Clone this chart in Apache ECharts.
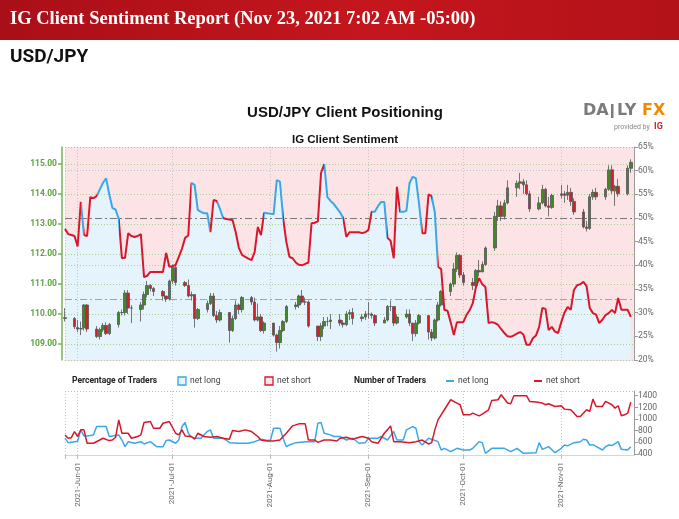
<!DOCTYPE html>
<html>
<head>
<meta charset="utf-8">
<title>USD/JPY Client Positioning</title>
<script src="https://cdn.jsdelivr.net/npm/echarts@6/dist/echarts.min.js"></script>
<style>
html, body { margin: 0; padding: 0; background: #fff; }
#chart { width: 679px; height: 519px; }
</style>
</head>
<body>
<div id="chart"></div>
<script>
// daily candles: [date, open, close, low, high]
var candles = [
  ['2021-05-28', 109.85, 109.88, 109.75, 110.20],
  ['2021-05-31', 109.85, 109.58, 109.50, 109.90],
  ['2021-06-01', 109.55, 109.50, 109.40, 109.80],
  ['2021-06-02', 109.50, 109.52, 109.30, 109.75],
  ['2021-06-03', 109.55, 110.30, 109.45, 110.33],
  ['2021-06-04', 110.30, 109.50, 109.40, 110.33],
  ['2021-06-07', 109.50, 109.25, 109.20, 109.60],
  ['2021-06-08', 109.25, 109.48, 109.15, 109.55],
  ['2021-06-09', 109.48, 109.62, 109.40, 109.70],
  ['2021-06-10', 109.62, 109.35, 109.30, 109.72],
  ['2021-06-11', 109.35, 109.65, 109.30, 109.70],
  ['2021-06-14', 109.65, 110.05, 109.55, 110.10],
  ['2021-06-15', 110.05, 110.05, 109.95, 110.15],
  ['2021-06-16', 110.05, 110.70, 109.95, 110.80],
  ['2021-06-17', 110.70, 110.20, 110.00, 110.80],
  ['2021-06-18', 110.20, 110.20, 109.70, 110.30],
  ['2021-06-21', 110.15, 110.30, 109.75, 110.40],
  ['2021-06-22', 110.30, 110.65, 110.15, 110.75],
  ['2021-06-23', 110.65, 110.95, 110.55, 111.10],
  ['2021-06-24', 110.95, 110.85, 110.75, 111.00],
  ['2021-06-25', 110.85, 110.75, 110.60, 110.90],
  ['2021-06-28', 110.75, 110.60, 110.45, 110.80],
  ['2021-06-29', 110.60, 110.50, 110.40, 110.60],
  ['2021-06-30', 110.50, 111.10, 110.45, 111.15],
  ['2021-07-01', 111.10, 111.55, 111.00, 111.65],
  ['2021-07-02', 111.55, 111.05, 110.95, 111.65],
  ['2021-07-05', 111.05, 110.95, 110.90, 111.10],
  ['2021-07-06', 110.95, 110.60, 110.55, 111.15],
  ['2021-07-07', 110.60, 110.65, 110.45, 110.75],
  ['2021-07-08', 110.65, 109.85, 109.55, 110.65],
  ['2021-07-09', 109.85, 110.15, 109.80, 110.20],
  ['2021-07-12', 110.15, 110.35, 110.05, 110.45],
  ['2021-07-13', 110.35, 110.60, 110.30, 110.70],
  ['2021-07-14', 110.60, 109.95, 109.90, 110.70],
  ['2021-07-15', 109.95, 109.80, 109.70, 110.10],
  ['2021-07-16', 109.80, 110.05, 109.75, 110.15],
  ['2021-07-19', 110.05, 109.45, 109.05, 110.05],
  ['2021-07-20', 109.45, 109.85, 109.40, 109.95],
  ['2021-07-21', 109.85, 110.30, 109.80, 110.45],
  ['2021-07-22', 110.30, 110.15, 110.00, 110.35],
  ['2021-07-23', 110.15, 110.55, 110.05, 110.60],
  ['2021-07-26', 110.55, 110.40, 110.30, 110.60],
  ['2021-07-27', 110.40, 109.80, 109.75, 110.55],
  ['2021-07-28', 109.80, 109.90, 109.75, 110.35],
  ['2021-07-29', 109.90, 109.45, 109.40, 110.00],
  ['2021-07-30', 109.45, 109.70, 109.35, 109.75],
  ['2021-08-02', 109.70, 109.30, 109.25, 109.70],
  ['2021-08-03', 109.30, 109.05, 108.75, 109.35],
  ['2021-08-04', 109.05, 109.45, 108.85, 109.60],
  ['2021-08-05', 109.45, 109.75, 109.40, 109.80],
  ['2021-08-06', 109.75, 110.25, 109.70, 110.30],
  ['2021-08-09', 110.25, 110.30, 110.15, 110.40],
  ['2021-08-10', 110.30, 110.60, 110.20, 110.65],
  ['2021-08-11', 110.60, 110.40, 110.35, 110.80],
  ['2021-08-12', 110.40, 110.40, 110.30, 110.55],
  ['2021-08-13', 110.40, 109.60, 109.55, 110.45],
  ['2021-08-16', 109.60, 109.25, 109.10, 109.60],
  ['2021-08-17', 109.25, 109.60, 109.10, 109.70],
  ['2021-08-18', 109.60, 109.75, 109.50, 109.90],
  ['2021-08-19', 109.75, 109.75, 109.60, 109.90],
  ['2021-08-20', 109.75, 109.80, 109.50, 110.00],
  ['2021-08-23', 109.80, 109.70, 109.60, 110.00],
  ['2021-08-24', 109.70, 109.65, 109.55, 109.80],
  ['2021-08-25', 109.65, 110.00, 109.60, 110.10],
  ['2021-08-26', 110.00, 110.05, 109.80, 110.15],
  ['2021-08-27', 110.05, 109.85, 109.65, 110.20],
  ['2021-08-30', 109.85, 109.90, 109.75, 110.00],
  ['2021-08-31', 109.90, 110.00, 109.80, 110.10],
  ['2021-09-01', 110.00, 110.00, 109.85, 110.40],
  ['2021-09-02', 110.00, 109.95, 109.85, 110.05],
  ['2021-09-03', 109.95, 109.70, 109.60, 110.00],
  ['2021-09-06', 109.70, 109.80, 109.70, 109.90],
  ['2021-09-07', 109.80, 110.25, 109.75, 110.30],
  ['2021-09-08', 110.25, 110.25, 110.10, 110.45],
  ['2021-09-09', 110.25, 109.70, 109.60, 110.25],
  ['2021-09-10', 109.70, 109.90, 109.65, 110.00],
  ['2021-09-13', 109.90, 110.00, 109.85, 110.15],
  ['2021-09-14', 110.00, 109.70, 109.60, 110.15],
  ['2021-09-15', 109.70, 109.35, 109.10, 109.70],
  ['2021-09-16', 109.35, 109.70, 109.25, 109.80],
  ['2021-09-17', 109.70, 109.95, 109.65, 110.00],
  ['2021-09-20', 109.95, 109.40, 109.15, 109.95],
  ['2021-09-21', 109.40, 109.20, 109.10, 109.50],
  ['2021-09-22', 109.20, 109.80, 109.15, 109.85],
  ['2021-09-23', 109.80, 110.30, 109.75, 110.40],
  ['2021-09-24', 110.30, 110.75, 110.25, 110.80],
  ['2021-09-27', 110.75, 111.00, 110.60, 111.05],
  ['2021-09-28', 111.00, 111.50, 110.90, 111.70],
  ['2021-09-29', 111.50, 111.95, 111.40, 112.05],
  ['2021-09-30', 111.95, 111.30, 111.20, 112.00],
  ['2021-10-01', 111.30, 111.05, 110.95, 111.40],
  ['2021-10-04', 111.05, 110.95, 110.80, 111.20],
  ['2021-10-05', 110.95, 111.45, 110.85, 111.50],
  ['2021-10-06', 111.45, 111.40, 111.25, 111.80],
  ['2021-10-07', 111.40, 111.65, 111.40, 111.75],
  ['2021-10-08', 111.65, 112.20, 111.60, 112.25],
  ['2021-10-11', 112.20, 113.25, 112.10, 113.40],
  ['2021-10-12', 113.25, 113.60, 113.10, 113.80],
  ['2021-10-13', 113.60, 113.25, 113.10, 113.75],
  ['2021-10-14', 113.25, 113.70, 113.15, 113.80],
  ['2021-10-15', 113.70, 114.20, 113.65, 114.45],
  ['2021-10-18', 114.20, 114.35, 113.90, 114.45],
  ['2021-10-19', 114.35, 114.40, 114.15, 114.70],
  ['2021-10-20', 114.40, 114.30, 114.00, 114.50],
  ['2021-10-21', 114.30, 114.00, 113.95, 114.45],
  ['2021-10-22', 114.00, 113.50, 113.40, 114.10],
  ['2021-10-25', 113.50, 113.70, 113.45, 113.90],
  ['2021-10-26', 113.70, 114.15, 113.65, 114.30],
  ['2021-10-27', 114.15, 113.60, 113.55, 114.20],
  ['2021-10-28', 113.60, 113.55, 113.25, 113.90],
  ['2021-10-29', 113.55, 113.95, 113.50, 114.00],
  ['2021-11-01', 113.95, 114.00, 113.85, 114.30],
  ['2021-11-02', 114.00, 113.95, 113.70, 114.10],
  ['2021-11-03', 113.95, 114.05, 113.80, 114.30],
  ['2021-11-04', 114.05, 113.75, 113.60, 114.20],
  ['2021-11-05', 113.75, 113.40, 113.30, 113.85],
  ['2021-11-08', 113.40, 112.90, 112.85, 113.50],
  ['2021-11-09', 112.90, 112.85, 112.75, 113.10],
  ['2021-11-10', 112.85, 113.90, 112.80, 114.00],
  ['2021-11-11', 113.90, 114.05, 113.80, 114.15],
  ['2021-11-12', 114.05, 113.90, 113.80, 114.20],
  ['2021-11-15', 113.90, 114.15, 113.80, 114.20],
  ['2021-11-16', 114.15, 114.80, 114.10, 114.95],
  ['2021-11-17', 114.80, 114.10, 114.00, 114.95],
  ['2021-11-18', 114.10, 114.25, 113.60, 114.30],
  ['2021-11-19', 114.25, 114.00, 113.90, 114.50],
  ['2021-11-22', 114.00, 114.85, 113.95, 114.95],
  ['2021-11-23', 114.85, 115.05, 114.70, 115.15]
];

// % of traders net long
var sentiment = [
  ['2021-05-28', 47.7], ['2021-05-29', 46.6], ['2021-05-30', 46.4], ['2021-05-31', 46.2],
  ['2021-06-01', 44.0], ['2021-06-02', 53.4], ['2021-06-03', 46.4], ['2021-06-04', 46.2],
  ['2021-06-05', 54.4], ['2021-06-06', 54.2], ['2021-06-07', 54.6], ['2021-06-08', 56.0],
  ['2021-06-09', 57.4], ['2021-06-10', 58.4], ['2021-06-11', 55.0], ['2021-06-12', 52.1],
  ['2021-06-13', 51.8], ['2021-06-14', 49.8], ['2021-06-15', 41.5], ['2021-06-16', 41.6],
  ['2021-06-17', 46.8], ['2021-06-18', 46.2], ['2021-06-19', 46.0], ['2021-06-20', 46.2],
  ['2021-06-21', 46.6], ['2021-06-22', 37.5], ['2021-06-23', 37.8], ['2021-06-24', 38.6],
  ['2021-06-25', 38.6], ['2021-06-26', 38.6], ['2021-06-27', 38.6], ['2021-06-28', 38.6],
  ['2021-06-29', 42.6], ['2021-06-30', 39.7], ['2021-07-01', 39.8], ['2021-07-02', 40.1],
  ['2021-07-03', 41.8], ['2021-07-04', 43.5], ['2021-07-05', 45.8], ['2021-07-06', 46.3],
  ['2021-07-07', 57.4], ['2021-07-08', 57.0], ['2021-07-09', 51.7], ['2021-07-10', 51.3],
  ['2021-07-11', 51.0], ['2021-07-12', 51.0], ['2021-07-13', 47.0], ['2021-07-14', 53.8],
  ['2021-07-15', 53.6], ['2021-07-16', 52.0], ['2021-07-17', 50.0], ['2021-07-18', 49.8],
  ['2021-07-19', 49.7], ['2021-07-20', 49.6], ['2021-07-21', 47.0], ['2021-07-22', 43.7],
  ['2021-07-23', 42.2], ['2021-07-24', 41.8], ['2021-07-25', 41.4], ['2021-07-26', 41.1],
  ['2021-07-27', 42.8], ['2021-07-28', 48.1], ['2021-07-29', 46.4], ['2021-07-30', 51.1],
  ['2021-07-31', 51.0], ['2021-08-01', 50.9], ['2021-08-02', 50.8], ['2021-08-03', 58.0],
  ['2021-08-04', 57.7], ['2021-08-05', 50.0], ['2021-08-06', 45.0], ['2021-08-07', 41.8],
  ['2021-08-08', 41.5], ['2021-08-09', 40.6], ['2021-08-10', 40.1], ['2021-08-11', 40.0],
  ['2021-08-12', 40.3], ['2021-08-13', 40.6], ['2021-08-14', 48.9], ['2021-08-15', 49.0],
  ['2021-08-16', 49.3], ['2021-08-17', 59.5], ['2021-08-18', 61.4], ['2021-08-19', 54.4],
  ['2021-08-20', 53.6], ['2021-08-21', 53.0], ['2021-08-22', 52.1], ['2021-08-23', 51.2],
  ['2021-08-24', 50.0], ['2021-08-25', 46.0], ['2021-08-26', 47.0], ['2021-08-27', 47.0],
  ['2021-08-28', 47.0], ['2021-08-29', 47.0], ['2021-08-30', 46.8], ['2021-08-31', 47.0],
  ['2021-09-01', 47.5], ['2021-09-02', 51.3], ['2021-09-03', 51.3], ['2021-09-04', 52.5],
  ['2021-09-05', 53.4], ['2021-09-06', 53.4], ['2021-09-07', 45.8], ['2021-09-08', 45.2],
  ['2021-09-09', 41.5], ['2021-09-10', 56.6], ['2021-09-11', 51.3], ['2021-09-12', 51.3],
  ['2021-09-13', 51.5], ['2021-09-14', 57.4], ['2021-09-15', 58.7], ['2021-09-16', 58.4],
  ['2021-09-17', 53.0], ['2021-09-18', 46.8], ['2021-09-19', 46.8], ['2021-09-20', 55.0],
  ['2021-09-21', 54.6], ['2021-09-22', 51.1], ['2021-09-23', 39.7], ['2021-09-24', 39.2],
  ['2021-09-25', 30.6], ['2021-09-26', 30.4], ['2021-09-27', 28.0], ['2021-09-28', 25.3],
  ['2021-09-29', 28.0], ['2021-09-30', 28.0], ['2021-10-01', 28.0], ['2021-10-02', 29.5],
  ['2021-10-03', 30.5], ['2021-10-04', 32.0], ['2021-10-05', 35.4], ['2021-10-06', 37.3],
  ['2021-10-07', 36.0], ['2021-10-08', 35.4], ['2021-10-09', 27.8], ['2021-10-10', 28.0],
  ['2021-10-11', 27.8], ['2021-10-12', 27.4], ['2021-10-13', 26.5], ['2021-10-14', 25.7],
  ['2021-10-15', 25.0], ['2021-10-16', 24.9], ['2021-10-17', 25.2], ['2021-10-18', 25.6],
  ['2021-10-19', 25.9], ['2021-10-20', 25.4], ['2021-10-21', 23.2], ['2021-10-22', 23.2],
  ['2021-10-23', 24.6], ['2021-10-24', 25.2], ['2021-10-25', 27.0], ['2021-10-26', 31.0],
  ['2021-10-27', 30.8], ['2021-10-28', 26.3], ['2021-10-29', 27.0], ['2021-10-30', 26.0],
  ['2021-10-31', 25.7], ['2021-11-01', 28.0], ['2021-11-02', 30.0], ['2021-11-03', 31.2],
  ['2021-11-04', 30.6], ['2021-11-05', 34.8], ['2021-11-06', 35.8], ['2021-11-07', 36.0],
  ['2021-11-08', 36.5], ['2021-11-09', 35.6], ['2021-11-10', 31.0], ['2021-11-11', 29.9],
  ['2021-11-12', 29.6], ['2021-11-13', 27.8], ['2021-11-14', 28.5], ['2021-11-15', 29.5],
  ['2021-11-16', 29.9], ['2021-11-17', 30.6], ['2021-11-18', 29.9], ['2021-11-19', 33.1],
  ['2021-11-20', 30.6], ['2021-11-21', 30.6], ['2021-11-22', 30.6], ['2021-11-23', 29.1]
];

// stretches where the sentiment line is drawn blue
var blueSpans = [
  ['2021-06-02', '2021-06-03'], ['2021-06-07', '2021-06-14'], ['2021-07-07', '2021-07-13'],
  ['2021-07-15', '2021-07-17'], ['2021-07-30', '2021-08-05'], ['2021-08-18', '2021-08-24'],
  ['2021-09-02', '2021-09-07'], ['2021-09-11', '2021-09-18'], ['2021-09-21', '2021-09-23']
];

// number of traders
var longCount = [
  ['2021-05-28', 670], ['2021-05-29', 595], ['2021-05-31', 612], ['2021-06-01', 620],
  ['2021-06-02', 814], ['2021-06-03', 710], ['2021-06-04', 710], ['2021-06-06', 728],
  ['2021-06-07', 871], ['2021-06-10', 871], ['2021-06-11', 700], ['2021-06-14', 728],
  ['2021-06-15', 640], ['2021-06-16', 526], ['2021-06-17', 612], ['2021-06-19', 584],
  ['2021-06-21', 612], ['2021-06-22', 572], ['2021-06-24', 612], ['2021-06-26', 526],
  ['2021-06-28', 526], ['2021-06-29', 630], ['2021-06-30', 640], ['2021-07-02', 584],
  ['2021-07-03', 640], ['2021-07-04', 871], ['2021-07-05', 940], ['2021-07-06', 756],
  ['2021-07-07', 690], ['2021-07-08', 670], ['2021-07-10', 670], ['2021-07-12', 785],
  ['2021-07-13', 814], ['2021-07-14', 670], ['2021-07-17', 670], ['2021-07-18', 640],
  ['2021-07-19', 595], ['2021-07-22', 584], ['2021-07-25', 584], ['2021-07-27', 612],
  ['2021-07-29', 653], ['2021-07-31', 630], ['2021-08-01', 640], ['2021-08-02', 842],
  ['2021-08-04', 842], ['2021-08-05', 670], ['2021-08-06', 526], ['2021-08-07', 555],
  ['2021-08-09', 595], ['2021-08-12', 612], ['2021-08-15', 612], ['2021-08-16', 929],
  ['2021-08-17', 940], ['2021-08-18', 756], ['2021-08-20', 728], ['2021-08-21', 700],
  ['2021-08-23', 700], ['2021-08-25', 640], ['2021-08-27', 670], ['2021-08-29', 584],
  ['2021-08-31', 595], ['2021-09-01', 670], ['2021-09-04', 670], ['2021-09-05', 700],
  ['2021-09-07', 640], ['2021-09-09', 785], ['2021-09-10', 640], ['2021-09-12', 640],
  ['2021-09-13', 814], ['2021-09-15', 871], ['2021-09-16', 842], ['2021-09-17', 612],
  ['2021-09-18', 555], ['2021-09-20', 670], ['2021-09-21', 653], ['2021-09-23', 612],
  ['2021-09-24', 469], ['2021-09-25', 498], ['2021-09-27', 440], ['2021-09-29', 498],
  ['2021-10-01', 469], ['2021-10-03', 469], ['2021-10-04', 498], ['2021-10-06', 612],
  ['2021-10-07', 595], ['2021-10-08', 411], ['2021-10-10', 498], ['2021-10-14', 498],
  ['2021-10-16', 440], ['2021-10-18', 498], ['2021-10-20', 411], ['2021-10-24', 422],
  ['2021-10-25', 595], ['2021-10-26', 480], ['2021-10-28', 526], ['2021-10-30', 422],
  ['2021-11-01', 498], ['2021-11-02', 555], ['2021-11-03', 540], ['2021-11-05', 595],
  ['2021-11-07', 610], ['2021-11-08', 653], ['2021-11-09', 640], ['2021-11-10', 555],
  ['2021-11-11', 560], ['2021-11-12', 530], ['2021-11-14', 469], ['2021-11-15', 526],
  ['2021-11-16', 555], ['2021-11-17', 545], ['2021-11-19', 612], ['2021-11-20', 480],
  ['2021-11-22', 469], ['2021-11-23', 526]
];
var shortCount = [
  ['2021-05-28', 728], ['2021-05-29', 670], ['2021-05-30', 680], ['2021-05-31', 785],
  ['2021-06-01', 700], ['2021-06-02', 815], ['2021-06-03', 815], ['2021-06-04', 584],
  ['2021-06-06', 584], ['2021-06-08', 640], ['2021-06-09', 670], ['2021-06-11', 630],
  ['2021-06-12', 640], ['2021-06-13', 687], ['2021-06-14', 986], ['2021-06-15', 756],
  ['2021-06-17', 756], ['2021-06-18', 670], ['2021-06-20', 700], ['2021-06-21', 728],
  ['2021-06-22', 940], ['2021-06-24', 957], ['2021-06-25', 842], ['2021-06-27', 842],
  ['2021-06-28', 928], ['2021-06-30', 957], ['2021-07-02', 756], ['2021-07-03', 728],
  ['2021-07-04', 814], ['2021-07-05', 710], ['2021-07-07', 700], ['2021-07-08', 653],
  ['2021-07-09', 756], ['2021-07-11', 700], ['2021-07-13', 687], ['2021-07-15', 700],
  ['2021-07-17', 670], ['2021-07-19', 653], ['2021-07-20', 802], ['2021-07-22', 785],
  ['2021-07-24', 814], ['2021-07-26', 785], ['2021-07-28', 700], ['2021-07-29', 640],
  ['2021-07-31', 624], ['2021-08-02', 624], ['2021-08-04', 640], ['2021-08-06', 756],
  ['2021-08-08', 883], ['2021-08-10', 917], ['2021-08-12', 917], ['2021-08-13', 640],
  ['2021-08-15', 640], ['2021-08-16', 600], ['2021-08-18', 640], ['2021-08-20', 640],
  ['2021-08-22', 624], ['2021-08-23', 670], ['2021-08-25', 687], ['2021-08-27', 653],
  ['2021-08-28', 670], ['2021-08-30', 700], ['2021-09-01', 670], ['2021-09-02', 612],
  ['2021-09-04', 584], ['2021-09-06', 756], ['2021-09-07', 814], ['2021-09-08', 883],
  ['2021-09-09', 612], ['2021-09-11', 612], ['2021-09-14', 595], ['2021-09-16', 612],
  ['2021-09-18', 640], ['2021-09-20', 572], ['2021-09-21', 595], ['2021-09-22', 814],
  ['2021-09-23', 986], ['2021-09-25', 1159], ['2021-09-27', 1331], ['2021-09-29', 1274],
  ['2021-09-30', 1245], ['2021-10-01', 1072], ['2021-10-03', 1072], ['2021-10-04', 1101],
  ['2021-10-06', 1055], ['2021-10-07', 1084], ['2021-10-09', 1159], ['2021-10-10', 1320],
  ['2021-10-12', 1331], ['2021-10-13', 1417], ['2021-10-15', 1274], ['2021-10-16', 1262],
  ['2021-10-17', 1400], ['2021-10-21', 1400], ['2021-10-22', 1302], ['2021-10-24', 1291],
  ['2021-10-26', 1274], ['2021-10-27', 1245], ['2021-10-28', 1262], ['2021-10-30', 1216],
  ['2021-11-01', 1228], ['2021-11-02', 1170], ['2021-11-04', 1159], ['2021-11-06', 1044],
  ['2021-11-07', 1044], ['2021-11-09', 1159], ['2021-11-10', 1130], ['2021-11-11', 1342],
  ['2021-11-12', 1216], ['2021-11-14', 1216], ['2021-11-15', 1302], ['2021-11-17', 1245],
  ['2021-11-18', 1187], ['2021-11-19', 1228], ['2021-11-20', 1055], ['2021-11-21', 1072],
  ['2021-11-22', 1100], ['2021-11-23', 1290]
];

var monthTicks = ['2021-06-01', '2021-07-01', '2021-08-01', '2021-09-01', '2021-10-01', '2021-11-01'];
var priceTicks = [109, 110, 111, 112, 113, 114, 115];
var countTicks = [400, 600, 800, 1000, 1200, 1400];
var monthNames = ['Jan', 'Feb', 'Mar', 'Apr', 'May', 'Jun', 'Jul', 'Aug', 'Sep', 'Oct', 'Nov', 'Dec'];

var RED = '#d8172c', BLUE = '#3ba7e6', GREEN = '#5fa23f';
var FONT = 'Roboto, "Noto Sans", sans-serif';

function ts(s) {
  var p = s.split('-').map(Number);
  return new Date(p[0], p[1] - 1, p[2]).getTime();
}
function fmtDate(v) {
  var d = new Date(v);
  var dd = d.getDate();
  return d.getFullYear() + '-' + monthNames[d.getMonth()] + '-' + (dd < 10 ? '0' + dd : dd);
}
function pairs(list) {
  return list.map(function (r) { return [ts(r[0]), r[1]]; });
}

var xMin = ts('2021-05-28'), xMax = ts('2021-11-24');
var monthVals = monthTicks.map(ts);
var gridTicks = [xMin].concat(monthVals);
var sentData = pairs(sentiment);

var myChart = echarts.init(document.getElementById('chart'));

var dotted = function (c) { return { color: c, type: [1, 2], width: 1 }; };
var logoFont = 'bold 16px "DejaVu Sans", sans-serif';

var option = {
  animation: false,
  backgroundColor: '#fff',
  textStyle: { fontFamily: FONT },
  graphic: [
    {
      type: 'rect', left: 0, top: 0, z: 10,
      shape: { width: 679, height: 40 },
      style: {
        fill: {
          type: 'linear', x: 0, y: 0, x2: 1, y2: 0,
          colorStops: [{ offset: 0, color: '#a90f18' }, { offset: 0.55, color: '#c5161d' }, { offset: 1, color: '#b31219' }]
        }
      }
    },
    {
      type: 'text', left: 10, top: 10, z: 11,
      style: { text: 'IG Client Sentiment Report (Nov 23, 2021 7:02 AM -05:00)', fill: '#fff', font: 'bold 18.5px "Liberation Serif", serif' }
    },
    {
      type: 'text', left: 10, top: 48, z: 11,
      style: { text: 'USD/JPY', fill: '#111', font: 'bold 19px Roboto, sans-serif' }
    },
    {
      type: 'text', x: 345, y: 113, z: 11,
      style: { text: 'USD/JPY Client Positioning', fill: '#111', font: 'bold 15px "Liberation Sans", Arial, sans-serif', align: 'center', verticalAlign: 'middle' }
    },
    {
      type: 'text', x: 345, y: 140, z: 11,
      style: { text: 'IG Client Sentiment', fill: '#111', font: 'bold 11.5px "Liberation Sans", Arial, sans-serif', align: 'center', verticalAlign: 'middle' }
    },
    // DailyFX logo
    { type: 'text', x: 583, y: 111, z: 11, style: { text: 'DA', fill: '#7b7b7b', font: logoFont, verticalAlign: 'middle' } },
    { type: 'rect', x: 611, y: 104, z: 11, shape: { width: 2.5, height: 14 }, style: { fill: '#7b7b7b' } },
    { type: 'text', x: 617, y: 111, z: 11, style: { text: 'LY', fill: '#7b7b7b', font: logoFont, verticalAlign: 'middle' } },
    { type: 'text', x: 642, y: 111, z: 11, style: { text: 'FX', fill: '#f18a00', font: logoFont, verticalAlign: 'middle' } },
    { type: 'text', x: 614, y: 127, z: 11, style: { text: 'provided by', fill: '#888', font: '7px Roboto, sans-serif', verticalAlign: 'middle' } },
    { type: 'text', x: 654, y: 127, z: 11, style: { text: 'IG', fill: '#d01f2a', font: 'bold 9px Roboto, sans-serif', verticalAlign: 'middle' } },
    // legend row
    { type: 'text', x: 72, y: 381, z: 11, style: { text: 'Percentage of Traders', fill: '#222', font: 'bold 8.5px Roboto, sans-serif', verticalAlign: 'middle' } },
    { type: 'rect', x: 178, y: 377, z: 11, shape: { width: 8, height: 8 }, style: { fill: '#e6f3fc', stroke: BLUE, lineWidth: 1.3 } },
    { type: 'text', x: 190, y: 381, z: 11, style: { text: 'net long', fill: '#444', font: '8.5px Roboto, sans-serif', verticalAlign: 'middle' } },
    { type: 'rect', x: 265, y: 377, z: 11, shape: { width: 8, height: 8 }, style: { fill: '#fde6e8', stroke: RED, lineWidth: 1.3 } },
    { type: 'text', x: 277, y: 381, z: 11, style: { text: 'net short', fill: '#444', font: '8.5px Roboto, sans-serif', verticalAlign: 'middle' } },
    { type: 'text', x: 354, y: 381, z: 11, style: { text: 'Number of Traders', fill: '#222', font: 'bold 8.5px Roboto, sans-serif', verticalAlign: 'middle' } },
    { type: 'line', z: 11, shape: { x1: 446, y1: 381, x2: 454, y2: 381 }, style: { stroke: BLUE, lineWidth: 2 } },
    { type: 'text', x: 458, y: 381, z: 11, style: { text: 'net long', fill: '#444', font: '8.5px Roboto, sans-serif', verticalAlign: 'middle' } },
    { type: 'line', z: 11, shape: { x1: 534, y1: 381, x2: 542, y2: 381 }, style: { stroke: RED, lineWidth: 2 } },
    { type: 'text', x: 546, y: 381, z: 11, style: { text: 'net short', fill: '#444', font: '8.5px Roboto, sans-serif', verticalAlign: 'middle' } }
  ],
  grid: [
    { left: 65, top: 147, width: 569, height: 213, show: true, backgroundColor: '#fce4e6', borderWidth: 0, z: -2 },
    { left: 65, top: 391, width: 569, height: 64, show: false }
  ],
  visualMap: {
    type: 'piecewise', show: false, seriesIndex: 2, dimension: 0,
    pieces: blueSpans.map(function (s) { return { gte: ts(s[0]), lte: ts(s[1]), color: BLUE }; }),
    outOfRange: { color: RED }
  },
  xAxis: [
    {
      type: 'value', gridIndex: 0, min: xMin, max: xMax, scale: true,
      axisLine: { show: true, lineStyle: dotted('#b9c9b0') },
      axisTick: { show: false, customValues: gridTicks },
      axisLabel: { show: false, customValues: monthVals },
      splitLine: { show: true, lineStyle: dotted('#c4c4c4') }
    },
    {
      type: 'value', gridIndex: 1, min: xMin, max: xMax, scale: true,
      axisLine: { show: true, lineStyle: { color: '#d6d6d6', width: 1 } },
      axisTick: { show: true, customValues: gridTicks, length: 4, lineStyle: { color: '#bbb' } },
      axisLabel: {
        customValues: monthVals, rotate: 90, margin: 7, fontSize: 8, color: '#666', fontFamily: FONT,
        formatter: function (v) { return fmtDate(v); }
      },
      splitLine: { show: true, lineStyle: dotted('#c8c8c8') }
    }
  ],
  yAxis: [
    {
      type: 'value', gridIndex: 0, position: 'left', offset: 3,
      min: 108.47, max: 115.56,
      axisLine: { show: true, lineStyle: { color: '#78b158', width: 1.5 } },
      axisTick: { show: true, customValues: priceTicks, length: 4, lineStyle: { color: '#78b158', width: 1.5 } },
      axisLabel: {
        customValues: priceTicks, color: GREEN, fontSize: 8.5, fontWeight: 'bold', margin: 5,
        formatter: function (v) { return v.toFixed(2); }
      },
      splitLine: { show: true, lineStyle: dotted('#a8cf8e') }
    },
    {
      type: 'value', gridIndex: 0, position: 'right',
      min: 20, max: 65, interval: 5,
      axisLine: { show: true, lineStyle: { color: '#9a9a9a' } },
      axisTick: { show: true, length: 4, lineStyle: { color: '#9a9a9a' } },
      axisLabel: { color: '#666', fontSize: 8.5, margin: 4, formatter: '{value}%' },
      splitLine: { show: false }
    },
    {
      type: 'value', gridIndex: 1, position: 'right',
      min: 383, max: 1481,
      axisLine: { show: true, lineStyle: { color: '#9a9a9a' } },
      axisTick: { show: true, customValues: countTicks, length: 4, lineStyle: { color: '#9a9a9a' } },
      axisLabel: {
        customValues: countTicks, color: '#666', fontSize: 8.5, margin: 4,
        formatter: function (v) { return String(v); }
      },
      splitLine: { show: false }
    }
  ],
  series: [
    {
      name: 'net long area', type: 'line', xAxisIndex: 0, yAxisIndex: 1, z: -1,
      data: sentData, showSymbol: false, silent: true,
      lineStyle: { width: 0 },
      areaStyle: { color: '#e5f3fc', opacity: 1, origin: 'start' },
      markLine: {
        silent: true, symbol: 'none', z: 1, label: { show: false },
        data: [
          { yAxis: 65, lineStyle: dotted('#b0b0b0') },
          { yAxis: 60, lineStyle: dotted('#c0c0c0') },
          { yAxis: 40, lineStyle: dotted('#c0c0c0') },
          { yAxis: 50, lineStyle: { color: '#777', type: [7, 3, 2, 3], width: 1.2 } }
        ]
      }
    },
    {
      name: 'USD/JPY', type: 'candlestick', xAxisIndex: 0, yAxisIndex: 0, z: 2,
      data: candles.map(function (r) { return [ts(r[0]), r[1], r[2], r[3], r[4]]; }),
      encode: { x: 0, y: [1, 2, 3, 4] },
      barWidth: 3,
      itemStyle: { color: '#3f8a22', color0: '#d11f2b', borderColor: '#555', borderColor0: '#555', borderWidth: 0.8 },
      markLine: {
        silent: true, symbol: 'none', z: 1, label: { show: false },
        data: [{ yAxis: 110.5, lineStyle: { color: '#a3a3a3', type: [7, 3, 2, 3], width: 1.2 } }]
      }
    },
    {
      name: '% net long', type: 'line', xAxisIndex: 0, yAxisIndex: 1, z: 4,
      data: sentData, showSymbol: false, silent: true,
      lineStyle: { width: 2 }
    },
    {
      name: 'net long', type: 'line', xAxisIndex: 1, yAxisIndex: 2, z: 3,
      data: pairs(longCount), showSymbol: false, silent: true,
      lineStyle: { width: 1.5, color: BLUE }, itemStyle: { color: BLUE },
      markLine: {
        silent: true, symbol: 'none', z: 1, label: { show: false },
        data: [{ yAxis: 1481, lineStyle: dotted('#b8b8b8') }]
      }
    },
    {
      name: 'net short', type: 'line', xAxisIndex: 1, yAxisIndex: 2, z: 3,
      data: pairs(shortCount), showSymbol: false, silent: true,
      lineStyle: { width: 1.5, color: RED }, itemStyle: { color: RED }
    }
  ]
};

myChart.setOption(option);
window.addEventListener('resize', function () {
  myChart.resize();
});
</script>
</body>
</html>
